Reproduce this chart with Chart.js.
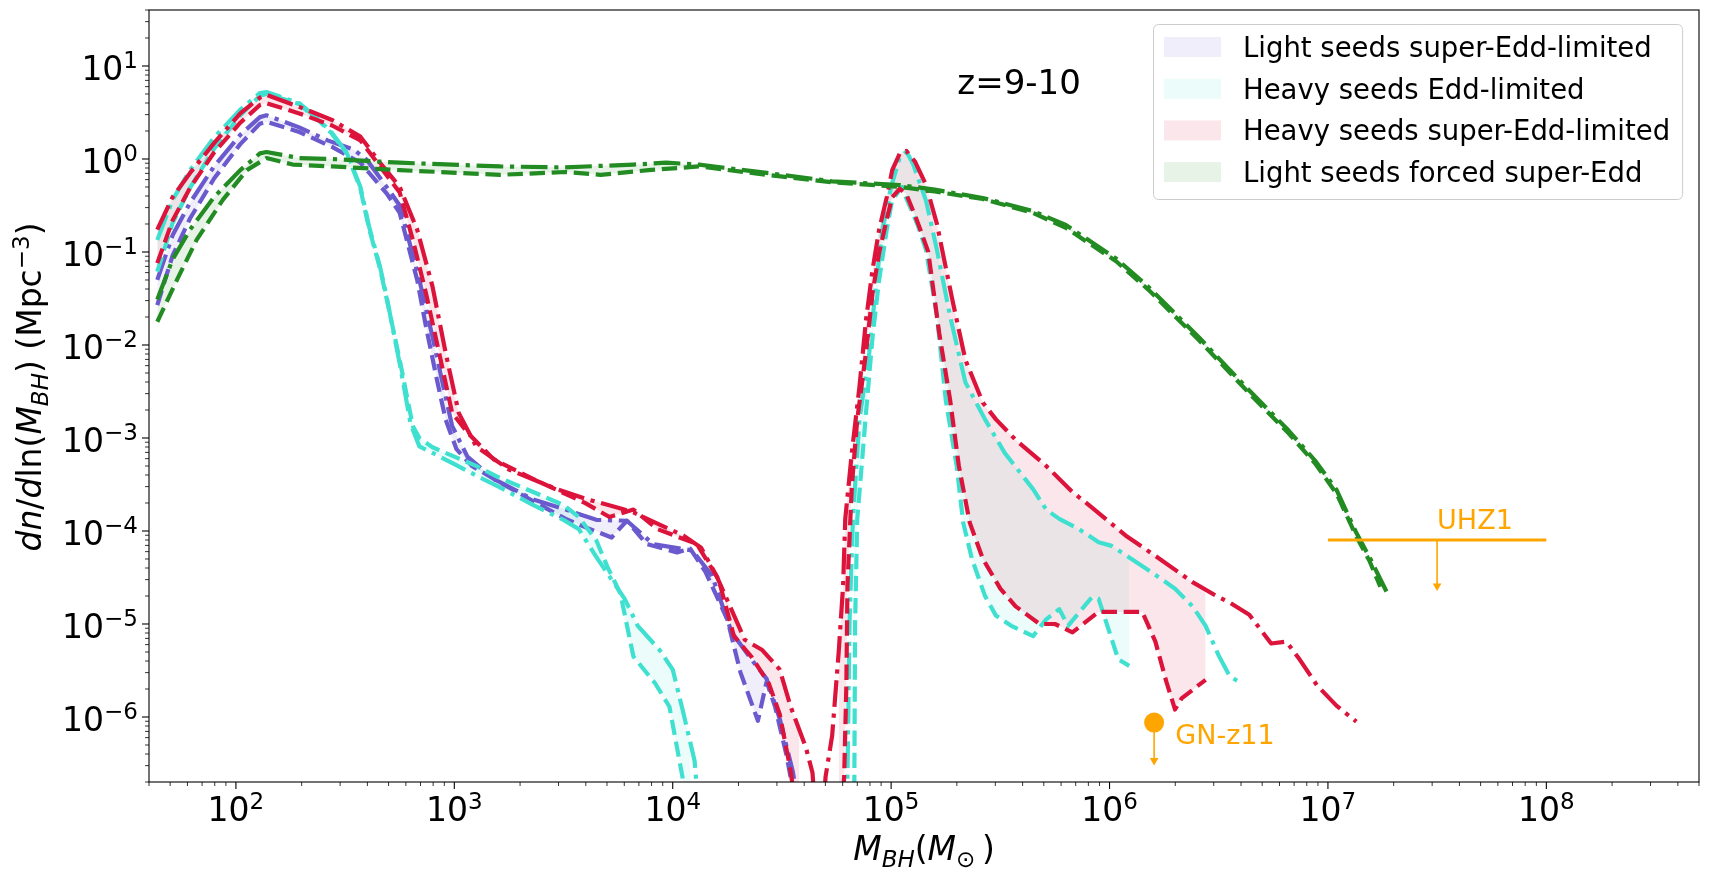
<!DOCTYPE html>
<html>
<head>
<meta charset="utf-8">
<script src="https://cdn.jsdelivr.net/npm/chart.js@4.4.1/dist/chart.umd.min.js"></script>
<style>
  html, body { margin: 0; padding: 0; background: #fff; }
  #wrap { width: 1709px; height: 877px; }
</style>
</head>
<body>
<div id="wrap"><canvas id="bhmf" width="1709" height="877"></canvas></div>
<script>
// all curve values are log10(M_BH / Msun) and log10(dn/dlnM / Mpc^-3)
// null = no black holes in that bin (gap in the line)

// light seeds super-Edd-limited (slateblue)
const lsDashLogM = [1.64,1.71,1.79,1.9,2.02,2.11,2.14,2.29,2.44,2.57,2.69,2.75,2.83,2.87,2.92,2.96,3.01,3.08,3.21,3.40,3.51,3.59,3.72,3.79,3.88,4.02,4.08,4.15,4.25,4.31,4.39,4.43,4.47,4.52,4.56,4.6];
const lsDashLogN = [-1.57,-1.04,-0.64,-0.21,0.16,0.38,0.40,0.29,0.13,-0.04,-0.37,-0.58,-1.3,-1.8,-2.37,-2.8,-3.12,-3.3,-3.48,-3.73,-3.87,-3.95,-4.07,-3.89,-4.14,-4.23,-4.19,-4.44,-4.95,-5.52,-6.04,-5.62,-5.9,-6.4,-6.9,-7.5];
const lsDdLogM = [1.64,1.71,1.79,1.9,2.02,2.11,2.14,2.29,2.42,2.54,2.6,2.69,2.75,2.84,2.9,2.95,2.99,3.06,3.18,3.36,3.51,3.65,3.79,3.91,4.09,4.18,4.27,4.36,4.43,4.49,4.55,4.6];
const lsDdLogN = [-1.30,-0.82,-0.47,-0.08,0.26,0.45,0.47,0.34,0.2,0.1,-0.01,-0.3,-0.5,-1.3,-1.91,-2.45,-2.87,-3.2,-3.44,-3.66,-3.77,-3.88,-3.89,-4.14,-4.21,-4.48,-5.09,-5.38,-5.59,-6.02,-6.59,-7.3];

// heavy seeds Edd-limited (turquoise)
const heDashLogM = [1.64,1.71,1.79,1.9,2.02,2.11,2.14,2.29,2.38,2.44,2.51,2.57,2.61,2.66,2.69,2.75,2.81,2.84,2.9,3.0,3.1,3.2,3.3,3.4,3.5,3.57,3.65,3.7,3.76,3.82,3.92,3.985,4.045,4.08,4.5,4.83,4.835,4.845,4.885,4.915,4.945,4.98,5.005,5.05,5.06,5.12,5.16,5.21,5.25,5.30,5.33,5.37,5.43,5.48,5.55,5.65,5.71,5.77,5.81,5.92,5.95,6.04,6.09];
const heDashLogN = [-1.21,-0.69,-0.31,0.11,0.47,0.68,0.70,0.59,0.41,0.27,0.05,-0.32,-0.75,-1.18,-1.5,-2.16,-2.87,-3.0,-3.1,-3.2,-3.3,-3.42,-3.52,-3.62,-3.72,-3.85,-4.1,-4.38,-4.67,-5.35,-5.64,-5.89,-6.65,-7.3,null,-7.5,-5.0,-3.87,-2.73,-1.91,-1.3,-0.76,-0.44,-0.3,-0.37,-0.7,-0.98,-1.69,-2.59,-3.30,-3.91,-4.30,-4.70,-4.91,-5.02,-5.13,-4.95,-4.84,-5.02,-4.71,-4.73,-5.38,-5.45];
const heDdLogM = [1.64,1.71,1.79,1.9,2.02,2.11,2.14,2.29,2.38,2.44,2.51,2.57,2.61,2.66,2.69,2.75,2.8,2.84,2.9,3.0,3.13,3.2,3.36,3.5,3.57,3.656,3.78,3.84,3.94,4.0,4.045,4.10,4.13,4.5,4.795,4.80,4.81,4.825,4.855,4.9,4.93,4.96,5.0,5.04,5.07,5.1,5.16,5.21,5.27,5.34,5.43,5.52,5.65,5.71,5.77,5.86,5.95,6.01,6.08,6.19,6.30,6.38,6.44,6.50,6.55,6.59];
const heDdLogN = [-0.87,-0.44,-0.12,0.23,0.53,0.71,0.72,0.6,0.42,0.28,0.06,-0.3,-0.73,-1.16,-1.48,-2.2,-2.85,-3.09,-3.16,-3.28,-3.44,-3.52,-3.72,-3.88,-3.98,-4.30,-4.73,-5.02,-5.28,-5.49,-5.92,-6.47,-7.3,null,-7.5,-6.64,-4.95,-3.87,-2.8,-2.08,-1.37,-0.76,-0.3,0.02,0.08,-0.05,-0.45,-0.98,-1.69,-2.40,-2.80,-3.16,-3.55,-3.77,-3.87,-3.98,-4.12,-4.16,-4.27,-4.44,-4.62,-4.81,-5.02,-5.34,-5.56,-5.62];

// heavy seeds super-Edd-limited (crimson)
const hsDashLogM = [1.64,1.71,1.79,1.9,2.02,2.11,2.14,2.29,2.44,2.57,2.66,2.75,2.81,2.87,2.93,2.99,3.06,3.18,3.36,3.48,3.6,3.71,3.82,3.93,4.11,4.21,4.28,4.36,4.44,4.49,4.54,4.58,4.68,4.76,4.785,4.795,4.80,4.82,4.845,4.885,4.915,4.945,4.98,5.005,5.04,5.07,5.11,5.14,5.17,5.22,5.27,5.31,5.36,5.42,5.50,5.57,5.68,5.75,5.83,5.95,6.10,6.15,6.21,6.26,6.30,6.33,6.44];
const hsDashLogN = [-1.12,-0.66,-0.31,0.07,0.39,0.58,0.60,0.49,0.36,0.2,-0.08,-0.36,-0.87,-1.44,-2.08,-2.73,-2.94,-3.23,-3.44,-3.57,-3.7,-3.85,-3.77,-3.98,-4.14,-4.52,-5.13,-5.35,-5.64,-5.97,-6.58,-7.3,null,-7.5,-6.64,-5.66,-4.59,-3.52,-2.8,-2.08,-1.44,-1.01,-0.65,-0.41,-0.32,-0.38,-0.61,-0.8,-1.0,-1.87,-2.59,-3.30,-3.91,-4.30,-4.62,-4.81,-5.0,-5.0,-5.09,-4.87,-4.87,-4.87,-5.19,-5.62,-5.92,-5.8,-5.6];
const hsDdLogM = [1.64,1.71,1.79,1.9,2.02,2.11,2.14,2.29,2.44,2.57,2.66,2.75,2.83,2.9,2.96,3.02,3.1,3.25,3.47,3.61,3.75,3.82,3.93,4.05,4.13,4.20,4.33,4.41,4.49,4.54,4.61,4.64,4.67,4.70,4.73,4.76,4.78,4.79,4.82,4.855,4.885,4.915,4.945,4.98,5.005,5.04,5.07,5.11,5.16,5.21,5.234,5.28,5.34,5.42,5.48,5.57,5.71,5.83,5.91,6.08,6.23,6.38,6.49,6.55,6.64,6.74,6.81,6.87,6.95,7.04,7.13];
const hsDdLogN = [-0.76,-0.41,-0.15,0.17,0.49,0.66,0.69,0.56,0.42,0.24,-0.04,-0.3,-0.76,-1.37,-2.08,-2.73,-3.09,-3.34,-3.55,-3.66,-3.75,-3.8,-3.92,-4.05,-4.18,-4.48,-5.17,-5.28,-5.49,-5.89,-6.33,-6.6,-7.6,-6.64,-6.2,-5.3,-4.59,-3.87,-3.16,-2.45,-1.73,-1.19,-0.76,-0.41,-0.12,0.06,0.086,-0.03,-0.28,-0.7,-0.98,-1.51,-2.16,-2.62,-2.80,-3.02,-3.30,-3.58,-3.73,-4.06,-4.30,-4.55,-4.70,-4.77,-4.9,-5.21,-5.19,-5.38,-5.66,-5.88,-6.05];

// light seeds forced super-Edd (forestgreen)
const lfDashLogM = [1.64,1.73,1.82,1.94,2.05,2.14,2.26,2.44,2.75,3.21,3.51,3.67,3.89,4.12,4.43,4.73,5.04,5.2,5.42,5.65,5.8,6.03,6.18,6.41,6.64,6.82,6.94,7.04,7.13,7.19,7.24];
const lfDashLogN = [-1.75,-1.30,-0.87,-0.44,-0.12,0.01,-0.06,-0.08,-0.12,-0.17,-0.14,-0.17,-0.12,-0.08,-0.17,-0.25,-0.3,-0.35,-0.43,-0.58,-0.74,-1.1,-1.41,-1.95,-2.52,-2.95,-3.27,-3.6,-4.06,-4.32,-4.6];
const lfDdLogM = [1.64,1.71,1.79,1.9,2.02,2.11,2.14,2.29,2.44,2.75,3.21,3.5,3.82,3.97,4.12,4.43,4.73,5.04,5.2,5.42,5.65,5.8,6.03,6.18,6.41,6.64,6.82,6.94,7.04,7.13,7.19,7.27];
const lfDdLogN = [-1.51,-1.08,-0.76,-0.41,-0.12,0.06,0.075,0.01,0.0,-0.04,-0.08,-0.09,-0.06,-0.04,-0.06,-0.15,-0.24,-0.28,-0.33,-0.42,-0.56,-0.71,-1.07,-1.38,-1.92,-2.49,-2.92,-3.24,-3.56,-4.02,-4.28,-4.66];

// observational upper limits
const uhz1Mass = [1e7, 1e8];
const uhz1Density = 8e-5;
const uhz1ArrowMass = 3.16e7;
const uhz1ArrowTip = 2.56e-5;
const gnz11Mass = 1.6e6;
const gnz11Density = 8.7e-7;
const gnz11ArrowTip = 3.4e-7;

const seriesLabels = ['Light seeds super-Edd-limited', 'Heavy seeds Edd-limited', 'Heavy seeds super-Edd-limited', 'Light seeds forced super-Edd'];
const seriesColors = ['#6A5ACD', '#40E0D0', '#DC143C', '#228B22'];
const seriesFills = ['rgba(106,90,205,0.1)', 'rgba(64,224,208,0.1)', 'rgba(220,20,60,0.1)', 'rgba(34,139,34,0.1)'];

const xTickExp = [2, 3, 4, 5, 6, 7, 8];
const yTickExp = [-6, -5, -4, -3, -2, -1, 0, 1];

const X_MIN = 40, X_MAX = 5e8, Y_MIN = 2e-7, Y_MAX = 40;

const toPoints = (lm, ln) => lm.map((m, i) => ({ x: Math.pow(10, m), y: ln[i] === null ? null : Math.pow(10, ln[i]) }));

const DASHED = [15.4, 6.7];
const DASHDOT = [26.7, 6.7, 4.2, 6.7];
const LW = 4.2;
const ORANGE = '#FFA500';

function pair(i, dashM, dashN, ddM, ddN) {
  return [
    { data: toPoints(dashM, dashN), borderColor: seriesColors[i], borderDash: DASHED, borderWidth: LW,
      fill: '+1', backgroundColor: seriesFills[i] },
    { data: toPoints(ddM, ddN), borderColor: seriesColors[i], borderDash: DASHDOT, borderWidth: LW,
      fill: false }
  ];
}

const datasets = [
  { data: [{ x: gnz11Mass, y: gnz11Density }], showLine: false, pointRadius: 10, pointBackgroundColor: ORANGE, pointBorderWidth: 0 },
  { data: [{ x: gnz11Mass, y: gnz11Density }, { x: gnz11Mass, y: gnz11ArrowTip }], borderColor: ORANGE, borderWidth: 1.6,
    pointRadius: [0, 5], pointStyle: 'triangle', pointRotation: 180, pointBackgroundColor: ORANGE, pointBorderWidth: 0 },
  { data: uhz1Mass.map(m => ({ x: m, y: uhz1Density })), borderColor: ORANGE, borderWidth: 2.8 },
  { data: [{ x: uhz1ArrowMass, y: uhz1Density }, { x: uhz1ArrowMass, y: uhz1ArrowTip }], borderColor: ORANGE, borderWidth: 1.6,
    pointRadius: [0, 5], pointStyle: 'triangle', pointRotation: 180, pointBackgroundColor: ORANGE, pointBorderWidth: 0 },
  ...pair(3, lfDashLogM, lfDashLogN, lfDdLogM, lfDdLogN),
  ...pair(2, hsDashLogM, hsDashLogN, hsDdLogM, hsDdLogN),
  ...pair(1, heDashLogM, heDashLogN, heDdLogM, heDdLogN),
  ...pair(0, lsDashLogM, lsDashLogN, lsDdLogM, lsDdLogN)
];
datasets.forEach(d => { d.clip = 0; if (d.pointRadius === undefined) d.pointRadius = 0; });

const F = (s, it) => (it ? 'italic ' : '') + s + 'px "DejaVu Sans"';

// draw a run of text pieces (for sub/superscripts)
function drawRuns(ctx, parts, x, y, align) {
  let w = 0;
  parts.forEach(p => { ctx.font = p.f; p.w = ctx.measureText(p.t).width; w += p.w; });
  let cx = align === 'center' ? x - w / 2 : align === 'right' ? x - w : x;
  parts.forEach(p => { ctx.font = p.f; ctx.fillText(p.t, cx, y + (p.dy || 0)); cx += p.w; });
  return w;
}
const expText = e => (e < 0 ? '\u2212' + (-e) : String(e));

const axesPlugin = {
  id: 'axesPlugin',
  afterDraw(chart) {
    const { ctx, chartArea: a, scales: { x, y } } = chart;
    ctx.save();
    ctx.strokeStyle = '#000';
    ctx.fillStyle = '#000';
    ctx.textAlign = 'left';
    ctx.textBaseline = 'alphabetic';

    // ticks
    for (let e = 1; e <= 8; e++) {
      for (let k = 1; k <= 9; k++) {
        const v = k * Math.pow(10, e);
        if (v < X_MIN || v > X_MAX) continue;
        const px = x.getPixelForValue(v);
        ctx.lineWidth = k === 1 ? 1.1 : 0.8;
        ctx.beginPath();
        ctx.moveTo(px, a.bottom);
        ctx.lineTo(px, a.bottom + (k === 1 ? 7 : 4));
        ctx.stroke();
      }
    }
    for (let e = -7; e <= 1; e++) {
      for (let k = 1; k <= 9; k++) {
        const v = k * Math.pow(10, e);
        if (v < Y_MIN * 0.999 || v > Y_MAX) continue;
        const py = y.getPixelForValue(v);
        ctx.lineWidth = k === 1 ? 1.1 : 0.8;
        ctx.beginPath();
        ctx.moveTo(a.left, py);
        ctx.lineTo(a.left - (k === 1 ? 7 : 4), py);
        ctx.stroke();
      }
    }
    // spines
    ctx.lineWidth = 1.1;
    ctx.strokeRect(a.left, a.top, a.right - a.left, a.bottom - a.top);

    // tick labels
    xTickExp.forEach(e => {
      const px = x.getPixelForValue(Math.pow(10, e));
      drawRuns(ctx, [{ t: '10', f: F(33) }, { t: expText(e), f: F(23), dy: -12 }], px, 821, 'center');
    });
    yTickExp.forEach(e => {
      const py = y.getPixelForValue(Math.pow(10, e));
      drawRuns(ctx, [{ t: '10', f: F(33) }, { t: expText(e), f: F(23), dy: -11.5 }], 138, py + 14, 'right');
    });

    // axis titles
    drawRuns(ctx, [
      { t: 'M', f: F(33, 1) }, { t: 'BH', f: F(23, 1), dy: 7 }, { t: '(', f: F(33) },
      { t: 'M', f: F(33, 1) }, { t: '\u2299', f: F(23), dy: 7 }, { t: '\u2009)', f: F(33) }
    ], (a.left + a.right) / 2, 860, 'center');

    ctx.save();
    ctx.translate(41, 387);
    ctx.rotate(-Math.PI / 2);
    drawRuns(ctx, [
      { t: 'dn', f: F(33, 1) }, { t: '/', f: F(33) }, { t: 'd', f: F(33, 1) }, { t: 'ln', f: F(33) },
      { t: '(', f: F(33) }, { t: 'M', f: F(33, 1) }, { t: 'BH', f: F(23, 1), dy: 7 }, { t: ')', f: F(33) },
      { t: ' (Mpc', f: F(33) }, { t: '\u22123', f: F(23), dy: -12 }, { t: ')', f: F(33) }
    ], 0, 0, 'center');
    ctx.restore();

    // annotations
    ctx.font = F(34);
    ctx.fillText('z=9-10', x.getPixelForValue(2.01e5), y.getPixelForValue(5.0));
    ctx.fillStyle = ORANGE;
    ctx.font = F(27);
    ctx.fillText('UHZ1', x.getPixelForValue(uhz1ArrowMass), y.getPixelForValue(1.05e-4));
    ctx.fillText('GN-z11', x.getPixelForValue(2.0e6), y.getPixelForValue(5.1e-7));

    // legend
    const lx = 1153, ly = 24, rowH = 41.7, textX = 1243;
    ctx.font = F(27.5);
    const maxW = Math.max(...seriesLabels.map(s => ctx.measureText(s).width));
    const bw = textX + maxW + 12 - lx, bh = 175;
    ctx.beginPath();
    ctx.roundRect(lx + 0.5, ly + 0.5, bw, bh, 5);
    ctx.fillStyle = 'rgba(255,255,255,0.8)';
    ctx.fill();
    ctx.strokeStyle = '#cccccc';
    ctx.lineWidth = 1;
    ctx.stroke();
    seriesLabels.forEach((s, i) => {
      const cy = 47 + i * rowH;
      ctx.fillStyle = seriesFills[i];
      ctx.fillRect(1164, cy - 10, 57, 20);
      ctx.fillStyle = '#000';
      ctx.fillText(s, textX, cy + 10);
    });
    ctx.restore();
  }
};

new Chart(document.getElementById('bhmf'), {
  type: 'line',
  data: { datasets },
  options: {
    responsive: false,
    animation: false,
    devicePixelRatio: 1,
    events: [],
    layout: { padding: { left: 149, right: 10, top: 9, bottom: 95 } },
    elements: {
      line: { tension: 0, borderCapStyle: 'butt', borderJoinStyle: 'round' },
      point: { radius: 0, hitRadius: 0 }
    },
    scales: {
      x: { type: 'logarithmic', min: X_MIN, max: X_MAX, display: false },
      y: { type: 'logarithmic', min: Y_MIN, max: Y_MAX, display: false }
    },
    plugins: {
      legend: { display: false },
      tooltip: { enabled: false },
      filler: { drawTime: 'beforeDatasetsDraw', propagate: false }
    }
  },
  plugins: [axesPlugin]
});
</script>
</body>
</html>
